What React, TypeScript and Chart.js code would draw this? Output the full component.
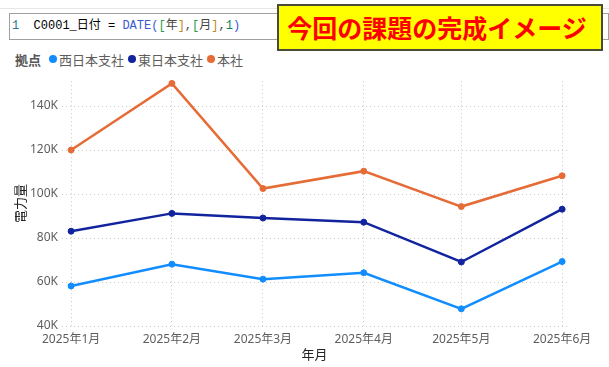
import React, { useEffect, useRef } from "react";
import { Chart, registerables } from "chart.js";

Chart.register(...registerables);

// Day offsets from 2025-01-01 for the first of each month (time axis)
const monthDays = [0, 31, 59, 90, 120, 151];
const monthLabels = ["2025年1月", "2025年2月", "2025年3月", "2025年4月", "2025年5月", "2025年6月"];
const seriesNames = ["西日本支社", "東日本支社", "本社"];
const westValues = [58200, 68100, 61300, 64200, 47800, 69300];
const eastValues = [83100, 91200, 89100, 87200, 69100, 93100];
const honshaValues = [120000, 150300, 102500, 110400, 94300, 108300];
const yTicks = [40000, 60000, 80000, 100000, 120000, 140000];
const colors = ["#118DFF", "#12239E", "#E66C37"];

const FONT = "'Noto Sans', 'Noto Sans CJK JP', sans-serif";

export default function App() {
  const ref = useRef<HTMLCanvasElement | null>(null);

  useEffect(() => {
    if (!ref.current) return;
    const all = [westValues, eastValues, honshaValues];
    const chart = new Chart(ref.current, {
      type: "line",
      data: {
        datasets: all.map((vals, i) => ({
          label: seriesNames[i],
          data: vals.map((v, j) => ({ x: monthDays[j], y: v })),
          borderColor: colors[i],
          backgroundColor: colors[i],
          borderWidth: 2.5,
          pointRadius: 3,
          pointBorderWidth: 1,
          pointHoverRadius: 3,
          tension: 0,
        })),
      },
      options: {
        animation: false,
        responsive: false,
        maintainAspectRatio: false,
        clip: false as any,
        layout: { padding: { top: 7, right: 42, left: 13, bottom: 0 } },
        plugins: { legend: { display: false }, tooltip: { enabled: false } },
        scales: {
          x: {
            type: "linear",
            min: -2.8,
            max: 152.5,
            afterBuildTicks: (axis: any) => {
              axis.ticks = monthDays.map((v) => ({ value: v }));
            },
            afterFit: (axis: any) => {
              axis.height = 41;
            },
            ticks: {
              callback: (v: any) => {
                const idx = monthDays.indexOf(Number(v));
                return idx >= 0 ? monthLabels[idx] : "";
              },
              color: "#605E5C",
              font: { family: FONT, size: 12 },
              padding: 6,
              maxRotation: 0,
              autoSkip: false,
            },
            grid: { color: "#c8c8c8", drawTicks: false },
            border: { display: false, dash: [1, 3] },
            title: {
              display: true,
              text: "年月",
              color: "#252423",
              font: { family: FONT, size: 13 },
              padding: { top: 0, bottom: 4 },
            },
          },
          y: {
            min: 40000,
            max: 151300,
            afterBuildTicks: (axis: any) => {
              axis.ticks = yTicks.map((v) => ({ value: v }));
            },
            afterFit: (axis: any) => {
              axis.width = 49;
            },
            ticks: {
              callback: (v: any) => Number(v) / 1000 + "K",
              color: "#605E5C",
              font: { family: FONT, size: 12 },
              padding: 4,
            },
            grid: { color: "#c8c8c8", drawTicks: false },
            border: { display: false, dash: [1, 3] },
            title: {
              display: true,
              text: "電力量",
              color: "#252423",
              font: { family: FONT, size: 13 },
              padding: 0,
            },
          },
        },
      },
    });
    return () => chart.destroy();
  }, []);

  const legendItem = (i: number) => (
    <span key={i} style={{ display: "inline-flex", alignItems: "center", marginRight: 4 }}>
      <span
        style={{
          display: "inline-block",
          width: 8,
          height: 8,
          borderRadius: 4,
          background: colors[i],
          marginRight: 2,
        }}
      />
      <span>{seriesNames[i]}</span>
    </span>
  );

  return (
    <div
      style={{
        position: "fixed",
        left: 0,
        top: 0,
        width: 609,
        height: 367,
        background: "#fff",
        overflow: "hidden",
      }}
    >
      {/* formula bar */}
      <div
        style={{
          position: "absolute",
          left: 0,
          top: 8,
          width: 609,
          height: 1,
          background: "#e6e6e6",
        }}
      />
      <div
        style={{
          position: "absolute",
          left: 9,
          top: 13,
          width: 600,
          height: 27,
          border: "1px solid #a0a0a0",
          boxSizing: "border-box",
          fontFamily: "'Liberation Mono', 'DejaVu Sans Mono', 'Noto Sans CJK JP', monospace",
          fontSize: 12,
          lineHeight: "25px",
          whiteSpace: "pre",
          color: "#000",
          paddingLeft: 2,
        }}
      >
        <span style={{ color: "#237893" }}>1</span>
        {"  C0001_日付 = "}
        <span style={{ color: "#3a5bd0" }}>DATE(</span>
        <span style={{ color: "#2c9a4a" }}>[</span>
        <span style={{ color: "#444" }}>年</span>
        <span style={{ color: "#c08a20" }}>]</span>
        <span style={{ color: "#444" }}>,</span>
        <span style={{ color: "#2c9a4a" }}>[</span>
        <span style={{ color: "#444" }}>月</span>
        <span style={{ color: "#c08a20" }}>]</span>
        <span style={{ color: "#444" }}>,</span>
        <span style={{ color: "#098658" }}>1</span>
        <span style={{ color: "#3a5bd0" }}>)</span>
      </div>
      {/* yellow note */}
      <div
        style={{
          position: "absolute",
          left: 277,
          top: 4,
          width: 326,
          height: 47,
          background: "#ffff00",
          border: "2px solid #4a4a3a",
          boxSizing: "border-box",
          color: "#ff0000",
          fontFamily: "'Noto Sans CJK JP', sans-serif",
          fontWeight: 700,
          fontSize: 25,
          lineHeight: "42px",
          textAlign: "center",
          paddingRight: 6,
          letterSpacing: 0,
        }}
      >
        今回の課題の完成イメージ
      </div>
      {/* legend */}
      <div
        style={{
          position: "absolute",
          left: 15,
          top: 50,
          height: 18,
          display: "flex",
          alignItems: "center",
          fontFamily: "'Noto Sans CJK JP', sans-serif",
          fontSize: 13,
          color: "#605E5C",
          whiteSpace: "nowrap",
        }}
      >
        <span style={{ fontWeight: 700, color: "#555", marginRight: 8 }}>拠点</span>
        {[0, 1, 2].map(legendItem)}
      </div>
      <canvas
        ref={ref}
        width={609}
        height={297}
        style={{ position: "absolute", left: 0, top: 70, width: 609, height: 297 }}
      />
    </div>
  );
}
